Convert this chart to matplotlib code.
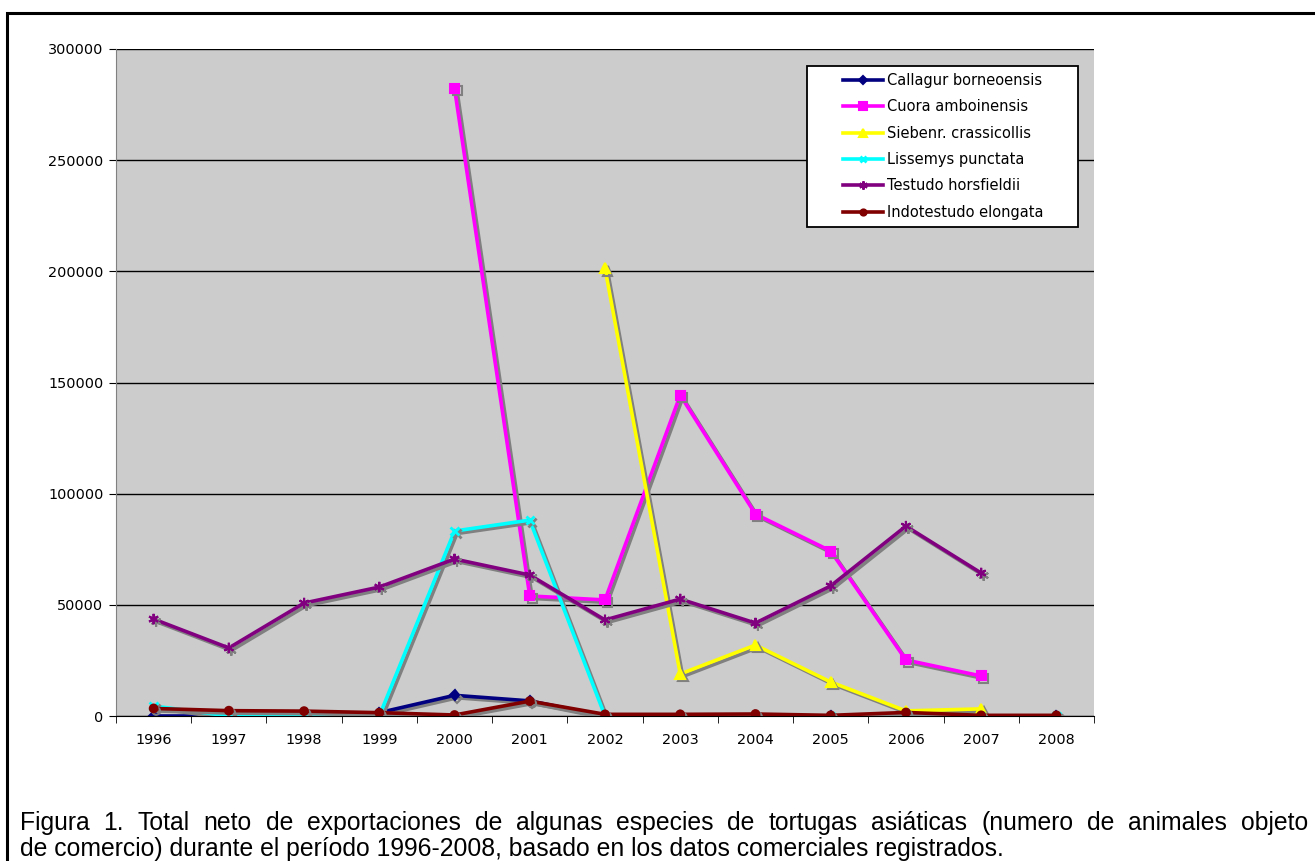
import numpy as np
import matplotlib
matplotlib.use("Agg")
import matplotlib.pyplot as plt
import matplotlib.patheffects as pe
from matplotlib.patches import Rectangle

years = ["1996", "1997", "1998", "1999", "2000", "2001", "2002",
         "2003", "2004", "2005", "2006", "2007", "2008"]
nan = np.nan
callagur = [0, 0, 0, 1500, 9300, 6800, 0, 0, 0, 0, 0, 0, 0]
cuora = [nan, nan, nan, nan, 282300, 54000, 52200, 144300, 90800, 74200, 25200, 18000, nan]
siebenr = [nan, nan, nan, nan, nan, nan, 201400, 18900, 31900, 15300, 2300, 3200, nan]
lissemys = [4500, 0, 0, 0, 83200, 88100, 0, 0, 0, 0, 0, 0, 0]
testudo = [43600, 30600, 50800, 58000, 70600, 63400, 43200, 52600, 41800, 58500, 85400, 64300, nan]
indotestudo = [3400, 2400, 2200, 1500, 450, 6700, 750, 750, 900, 300, 1600, 300, 300]

series = [
    ("Callagur borneoensis", callagur, "#000080", "D", 5),
    ("Cuora amboinensis", cuora, "#FF00FF", "s", 6.5),
    ("Siebenr. crassicollis", siebenr, "#FFFF00", "^", 7),
    ("Lissemys punctata", lissemys, "#00FFFF", "x", 6),
    ("Testudo horsfieldii", testudo, "#800080", (6, 2, 0), 7.5),
    ("Indotestudo elongata", indotestudo, "#800000", "o", 5.5),
]
caption1 = "Figura 1. Total neto de exportaciones de algunas especies de tortugas asiáticas (numero de animales objeto"
caption2 = "de comercio) durante el período 1996-2008, basado en los datos comerciales registrados."

W, H = 1315, 861
fig = plt.figure(figsize=(W / 100, H / 100), dpi=100)
fig.patch.set_facecolor("white")

# outer frame
fig.add_artist(Rectangle((7 / W, -0.1), 1.2, 1 - 13 / H + 0.1, transform=fig.transFigure,
                         fill=False, edgecolor="black", linewidth=2.2))

L, R, T, B = 116, 1094, 49, 716
ax = fig.add_axes([L / W, 1 - B / H, (R - L) / W, (B - T) / H])
ax.set_facecolor("#CCCCCC")
x = np.arange(len(years))
shadow = [pe.SimpleLineShadow(offset=(1.8, -1.8), shadow_color="#808080", alpha=1.0), pe.Normal()]
for name, vals, col, mk, ms in series:
    ax.plot(x, vals, color=col, marker=mk, markersize=ms, linewidth=2.6,
            markeredgecolor=col, markerfacecolor=col, markeredgewidth=1.5 if mk != "x" else 2,
            label=name, path_effects=shadow, zorder=3)

ax.set_xlim(-0.5, len(years) - 0.5)
ax.set_ylim(0, 300000)
ax.set_yticks(np.arange(0, 300001, 50000))
ax.set_yticklabels([str(v) for v in range(0, 300001, 50000)])
ax.set_xticks(x)
ax.set_xticklabels(years)
ax.set_xticks(np.arange(-0.5, len(years), 1), minor=True)
ax.tick_params(axis="x", which="major", length=0, labelsize=10.4, pad=12)
ax.tick_params(axis="x", which="minor", length=5, direction="out", color="black")
ax.tick_params(axis="y", length=5, direction="out", labelsize=10.4, pad=4)
ax.grid(axis="y", color="black", linewidth=1)
ax.set_axisbelow(True)
for s in ["top", "right"]:
    ax.spines[s].set_visible(False)
ax.spines["left"].set_color("#808080")
ax.spines["bottom"].set_color("black")

def axfrac(px, py):
    return (px - L) / (R - L), (B - py) / (B - T)

# legend frame
lx0, ly0 = axfrac(807, 227)
lx1, ly1 = axfrac(1078, 66)
ax.add_patch(Rectangle((lx0, ly0), lx1 - lx0, ly1 - ly0, transform=ax.transAxes,
                       facecolor="white", edgecolor="black", linewidth=1.3, zorder=5))
leg = ax.legend(loc="upper left", bbox_to_anchor=axfrac(843, 73),
                frameon=False, fontsize=10.5, handlelength=2.75, handletextpad=0.25,
                labelspacing=0.78, borderpad=0, borderaxespad=0, markerscale=0.8)
leg.set_zorder(6)
for h in leg.legend_handles:
    h.set_path_effects([])

# caption: first line justified, second line left-aligned
fs = 17.8
cap_left, cap_right = 20, 1308
words = caption1.split(" ")
fig.canvas.draw()
renderer = fig.canvas.get_renderer()
tmp = [fig.text(0, 0, w, fontsize=fs, family="Liberation Sans") for w in words]
widths = [t.get_window_extent(renderer).width for t in tmp]
for t in tmp:
    t.remove()
gap = (cap_right - cap_left - sum(widths)) / (len(words) - 1)
xpos = cap_left
for w, wd in zip(words, widths):
    fig.text(xpos / W, 1 - 823 / H, w, fontsize=fs, family="Liberation Sans", va="center", ha="left")
    xpos += wd + gap
fig.text(cap_left / W, 1 - 849 / H, caption2, fontsize=fs, family="Liberation Sans", va="center", ha="left")

fig.savefig("out.png", dpi=100)
